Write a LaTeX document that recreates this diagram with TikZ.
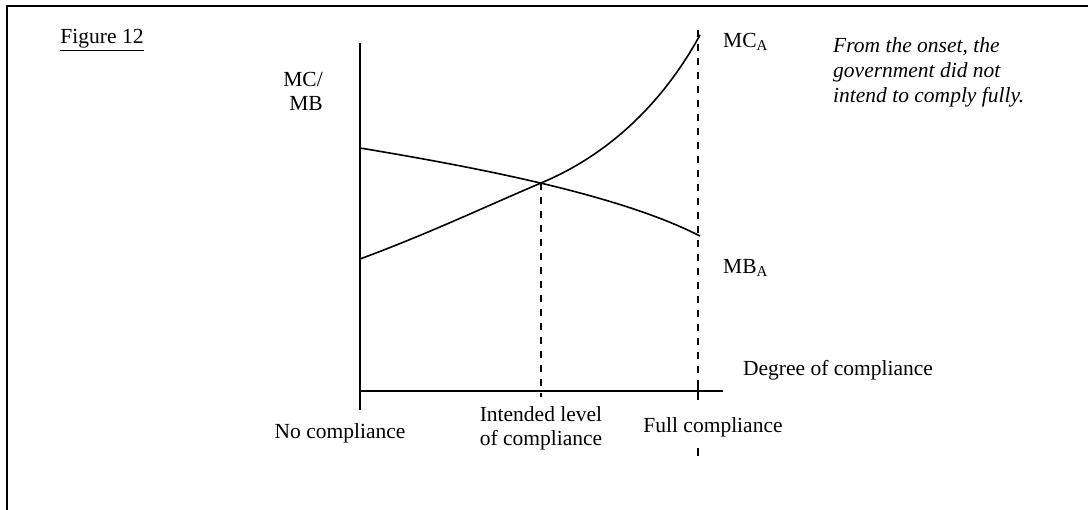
\documentclass[tikz,border=0pt]{standalone}
\usepackage{fontspec}
\setmainfont{Liberation Serif}
\begin{document}
\begin{tikzpicture}[x=1pt,y=-1pt,
  lbl/.style={inner sep=0pt,font=\fontsize{21.5}{24}\selectfont},
  axisline/.style={line width=2pt},
  curveline/.style={line width=1.6pt},
  guide/.style={line width=1.6pt,dash pattern=on 7pt off 7pt},
  frameline/.style={line width=2.2pt}]
\useasboundingbox (0,0) rectangle (1088,510);
\clip (0,0) rectangle (1088,510);

% outer frame (open to the right and bottom)
\draw[frameline] (7,520) -- (7,6) -- (1100,6);

% axes
\coordinate (ytop) at (360,43);
\coordinate (ybot) at (360,410);
\coordinate (xl) at (360,391);
\coordinate (xr) at (723,391);
\draw[axisline] (ytop) -- (ybot);
\draw[axisline] (xl) -- (xr);

% curves
\coordinate (mb0) at (360,148);
\coordinate (mb1) at (700,236);
\coordinate (mc0) at (360,259);
\coordinate (eq) at (541,183);
\coordinate (mc1) at (700,35);
\draw[curveline] (mb0) .. controls (480,168) and (620,195) .. (mb1);
\draw[curveline] (mc0) .. controls (430,233) and (480,209) .. (eq)
                 .. controls (620,150) and (670,90) .. (mc1);

% guide lines
\coordinate (eqb) at (541,397);
\coordinate (fulltop) at (698,30);
\coordinate (fullb) at (698,400);
\coordinate (fulltail) at (698,448);
\coordinate (fulltailb) at (698,456);
\draw[guide] (eq) -- (eqb);
\draw[guide] (fulltop) -- (fullb);
\draw[line width=2pt] (698,384) -- (fullb);
\draw[line width=2pt] (fulltail) -- (fulltailb);

% labels
\node[lbl] (fig) at (102,40) {\underline{Figure 12}};
\node[lbl,align=right,anchor=east] (ylab) at (323,91) {MC/\\MB};
\node[lbl,anchor=west] (mca) at (723,42) {MC\textsubscript{A}};
\node[lbl,anchor=west] (mba) at (723,268) {MB\textsubscript{A}};
\node[lbl,align=left,anchor=north west,font=\fontsize{21.5}{25}\selectfont\itshape]
  (note) at (833,37) {From the onset, the\\government did not\\intend to comply fully.};
\node[lbl] (xlab) at (838,370) {Degree of compliance};
\node[lbl] (none) at (340,433) {No compliance};
\node[lbl,align=center,anchor=north] (intended) at (541,406) {Intended level\\of compliance};
\node[lbl] (full) at (713,427) {Full compliance};
\end{tikzpicture}
\end{document}
